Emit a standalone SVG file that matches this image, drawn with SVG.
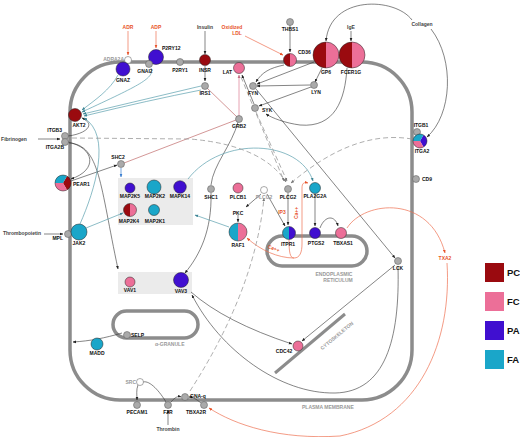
<svg xmlns="http://www.w3.org/2000/svg" width="520" height="437" viewBox="0 0 520 437">
<style>
.l{font-family:"Liberation Sans",Arial,sans-serif;font-weight:bold;font-size:5px;fill:#111;text-anchor:middle}
.s{text-anchor:start}.e{text-anchor:end}
.gl{fill:#999}.or{fill:#e8542a}.dk{fill:#444}
.lg{font-size:9.5px;text-anchor:start}
.g{fill:#aaa;stroke:#555;stroke-width:0.5}
.w{fill:#fff;stroke:#555;stroke-width:0.5}
.n{fill:none;stroke:#222;stroke-width:0.5}
.pc{fill:#9a0a0f}.fc{fill:#ec6f98}.pa{fill:#400fd0}.fa{fill:#1aa6c9}
.c{fill:none;stroke:#333;stroke-width:0.6}
.t{fill:none;stroke:#5a9fae;stroke-width:0.7}
.o{fill:none;stroke:#ee7050;stroke-width:0.7}
.r{fill:none;stroke:#c06a6a;stroke-width:0.7}
.p{fill:none;stroke:#e08aa0;stroke-width:0.8}
.b{fill:none;stroke:#3b7fd0;stroke-width:0.7}
.d{fill:none;stroke:#999;stroke-width:0.8;stroke-dasharray:5 3}
.mem{fill:none;stroke:#8c8c8c;stroke-width:3.5}
.box{fill:#ebebeb}
</style>
<defs>
<marker id="ad" viewBox="0 0 10 10" refX="9" refY="5" markerWidth="3.5" markerHeight="3.5" orient="auto" markerUnits="userSpaceOnUse"><path d="M0,1 L10,5 L0,9 z" fill="#222"/></marker>
<marker id="at" viewBox="0 0 10 10" refX="9" refY="5" markerWidth="3.5" markerHeight="3.5" orient="auto" markerUnits="userSpaceOnUse"><path d="M0,1 L10,5 L0,9 z" fill="#3d8595"/></marker>
<marker id="ao" viewBox="0 0 10 10" refX="9" refY="5" markerWidth="3.5" markerHeight="3.5" orient="auto" markerUnits="userSpaceOnUse"><path d="M0,1 L10,5 L0,9 z" fill="#e8542a"/></marker>
<marker id="ab" viewBox="0 0 10 10" refX="9" refY="5" markerWidth="3.5" markerHeight="3.5" orient="auto" markerUnits="userSpaceOnUse"><path d="M0,1 L10,5 L0,9 z" fill="#3b7fd0"/></marker>
<marker id="ap" viewBox="0 0 10 10" refX="9" refY="5" markerWidth="3.5" markerHeight="3.5" orient="auto" markerUnits="userSpaceOnUse"><path d="M0,1 L10,5 L0,9 z" fill="#c06a80"/></marker>
<marker id="ag" viewBox="0 0 10 10" refX="9" refY="5" markerWidth="3.5" markerHeight="3.5" orient="auto" markerUnits="userSpaceOnUse"><path d="M0,1 L10,5 L0,9 z" fill="#777"/></marker>
</defs>
<rect width="520" height="437" fill="#fff"/>

<g id="compartments">
<rect class="mem" x="70" y="62" width="342" height="338" rx="50"/>
<text class="l gl s" x="302" y="409">PLASMA MEMBRANE</text>
<rect class="mem" x="267" y="236" width="100" height="30" rx="15" stroke-width="3"/>
<text class="l gl" x="334" y="276">ENDOPLASMIC</text>
<text class="l gl" x="338" y="282">RETICULUM</text>
<rect class="mem" x="113" y="311" width="85" height="27" rx="13.5" stroke-width="3"/>
<text class="l gl s" x="155" y="346">α-GRANULE</text>
<line x1="275" y1="373" x2="345" y2="314" stroke="#8c8c8c" stroke-width="3"/>
<text class="l gl" x="0" y="0" transform="translate(338,337) rotate(-40)">CYTOSKELETON</text>
<rect class="box" x="118" y="178" width="75" height="47"/>
<rect class="box" x="118" y="272" width="74" height="22"/>
</g>

<g id="connectors">
<path class="o" d="M128,31 L128,55" marker-end="url(#ao)"/>
<path class="o" d="M156,31 L156,48" marker-end="url(#ao)"/>
<path class="o" d="M245,36 L283,55" marker-end="url(#ao)"/>
<path class="o" d="M347,228 C365,200 430,195 445,253" marker-end="url(#ao)"/>
<path class="o" d="M447,263 C452,340 420,420 340,436 C280,440 235,425 209,408" marker-end="url(#ao)"/>
<path class="o" d="M289,240 C289,252 290,258 294,258 C300,258 302,252 302,244 L302,188 C302,183 304,182 308,183" marker-end="url(#ao)"/>
<path class="o" d="M294,258 C278,258 260,250 247,238" marker-end="url(#ao)"/>

<path class="c" d="M205,31 L205,54" marker-end="url(#ad)"/>
<path class="c" d="M205,66 L205,81" marker-end="url(#ad)"/>
<path class="c" d="M290,25 L290,52" marker-end="url(#ad)"/>
<path class="c" d="M351,31 L351,41" marker-end="url(#ad)"/>
<path class="c" d="M412,20 C395,-3 330,-5 326,41" marker-end="url(#ad)"/>
<path class="c" d="M431,29 C455,60 452,115 427,137" marker-end="url(#ad)"/>
<path class="c" d="M284,65 C270,68 262,72 256,82" marker-end="url(#ad)"/>
<path class="c" d="M314,62 L257,84" marker-end="url(#ad)"/>
<path class="c" d="M310,85 L257,86" marker-end="url(#ad)"/>
<path class="c" d="M322,68 L315,82" marker-end="url(#ad)"/>
<path class="c" d="M311,87 L259,106" marker-end="url(#ad)"/>
<path class="c" d="M347,68 C345,100 335,128 300,125 C285,123 272,118 266,114" marker-end="url(#ad)"/>
<path class="c" d="M254,104 L242,75" marker-end="url(#ad)"/>
<path class="p" d="M239,116 L239,75" marker-end="url(#ap)"/>
<path class="r" d="M207,88 L237,117"/>
<path class="r" d="M124,163 L236,120"/>
<path class="c" d="M238,122 C232,145 213,165 211,185"/>
<path class="c" d="M211,193 C212,230 200,255 185,273" marker-end="url(#ad)"/>
<path class="c" d="M256,89 L395,258" marker-end="url(#ad)"/>
<path class="c" d="M395,265 L302,341" marker-end="url(#ad)"/>
<path class="c" d="M398,266 C400,340 385,392 335,393 C280,394 220,350 192,295" marker-end="url(#ad)"/>
<path class="c" d="M191,292 Q225,322 292,344" marker-end="url(#ad)"/>
<path class="c" d="M68,142 C95,148 98,170 71,179" marker-end="url(#ad)"/>
<path class="c" d="M68,136 C85,134 97,125 82,118" marker-end="url(#ad)"/>
<path class="c" d="M69,143 C100,145 100,185 118,269" marker-end="url(#ad)"/>
<path class="c" d="M71,181 L117,165" marker-end="url(#ad)"/>
<path class="b" d="M121,168 L121,177" marker-end="url(#ab)"/>
<path class="c" d="M38,139 L60,139" marker-end="url(#ad)"/>
<path class="c" d="M44,234 L63,234" marker-end="url(#ad)"/>
<path class="c" d="M288,193 L288,225" marker-end="url(#ad)"/>
<path class="c" d="M267,194 L285,226" marker-end="url(#ad)"/>
<path class="c" d="M261,194 L246,207" marker-end="url(#ad)"/>
<path class="c" d="M238,215 L238,222" marker-end="url(#ad)"/>
<path class="c" d="M315,194 L315,226" marker-end="url(#ad)"/>
<path class="c" d="M320,228 C325,215 335,215 338,226" marker-end="url(#ad)"/>
<path class="c" d="M122,333 C105,338 90,341 73,342" marker-end="url(#ad)"/>
<path class="c" d="M138,385 C136,390 137,395 137,400" marker-end="url(#ad)"/>
<path class="c" d="M166,402 C160,392 150,380 143,382"/>
<path class="c" d="M171,402 C175,397 178,396 181,397" marker-end="url(#ad)"/>
<path class="c" d="M201,403 C196,399 193,397 189,397" marker-end="url(#ad)"/>
<path class="c" d="M168,425 L168,410" marker-end="url(#ad)"/>

<path class="t" d="M118,75 C110,90 95,100 82,110" marker-end="url(#at)"/>
<path class="t" d="M151,68 C155,78 140,85 82,112" marker-end="url(#at)"/>
<path class="t" d="M201,86 L83,114" marker-end="url(#at)"/>
<path class="t" d="M201,90 Q150,100 84,116" marker-end="url(#at)"/>
<path class="t" d="M80,224 C95,190 112,135 84,118" marker-end="url(#at)"/>
<path class="t" d="M86,228 L123,213" marker-end="url(#at)"/>
<path class="t" d="M229,227 L195,215" marker-end="url(#at)"/>
<path class="t" d="M188,179 C222,135 300,140 313,181" marker-end="url(#at)"/>

<path class="d" d="M72,138 L190,139 Q262,145 286,182" marker-end="url(#ag)"/>
<path class="d" d="M412,139 C370,132 330,150 291,183" marker-end="url(#ag)"/>
<path class="d" d="M241,77 L284,181" marker-end="url(#ag)"/>
<path class="d" d="M256,112 L287,181" marker-end="url(#ag)"/>
<path class="d" d="M190,391 Q255,290 264,198" marker-end="url(#ag)"/>
</g>

<g id="ADR"><text class="l or" x="128" y="29">ADR</text></g>
<g id="ADP"><text class="l or" x="156" y="29">ADP</text></g>
<g id="Insulin"><text class="l dk" x="205" y="29">Insulin</text></g>
<g id="OxidizedLDL"><text class="l or" x="232" y="29">Oxidized</text><text class="l or" x="237" y="35">LDL</text></g>
<g id="IgE"><text class="l dk" x="351" y="29">IgE</text></g>
<g id="Collagen"><text class="l dk" x="422" y="26">Collagen</text></g>
<g id="Fibrinogen"><text class="l dk" x="14" y="141">Fibrinogen</text></g>
<g id="Thrombopoietin"><text class="l dk" x="22" y="235">Thrombopoietin</text></g>
<g id="Thrombin"><text class="l dk" x="168" y="431">Thrombin</text></g>

<g id="ADRA2A"><circle class="w" cx="128" cy="60" r="3.5"/><text class="l gl e" x="124" y="61">ADRA2A</text></g>
<g id="GNAZ"><circle class="pa" cx="123" cy="69" r="7"/><circle class="n" cx="123" cy="69" r="7"/><text class="l" x="123" y="82">GNAZ</text></g>
<g id="P2RY12"><circle class="pa" cx="156" cy="57" r="7.5"/><circle class="n" cx="156" cy="57" r="7.5"/><text class="l s" x="162" y="50">P2RY12</text></g>
<g id="GNAI2"><circle class="g" cx="149" cy="64" r="3.5"/><text class="l" x="145" y="73">GNAI2</text></g>
<g id="P2RY1"><circle class="g" cx="180" cy="62" r="3.5"/><text class="l" x="180" y="72">P2RY1</text></g>
<g id="INSR"><circle class="pc" cx="205" cy="60" r="5.5"/><circle class="n" cx="205" cy="60" r="5.5"/><text class="l" x="205" y="72">INSR</text></g>
<g id="IRS1"><circle class="g" cx="205" cy="86" r="3.5"/><text class="l" x="205" y="95">IRS1</text></g>
<g id="LAT"><circle class="fc" cx="239" cy="68" r="5.5"/><circle class="n" cx="239" cy="68" r="5.5"/><text class="l e" x="232" y="74">LAT</text></g>
<g id="THBS1"><circle class="g" cx="290" cy="22" r="3.5"/><text class="l" x="290" y="31">THBS1</text></g>
<g id="CD36"><path class="pc" d="M290,53.5 A6.5,6.5 0 0 0 290,66.5 Z"/><path class="fc" d="M290,53.5 A6.5,6.5 0 0 1 290,66.5 Z"/><circle class="n" cx="290" cy="60" r="6.5"/><text class="l s" x="298" y="54">CD36</text></g>
<g id="GP6"><path class="pc" d="M326,42 A13,13 0 0 0 326,68 Z"/><path class="fc" d="M326,42 A13,13 0 0 1 326,68 Z"/><circle class="n" cx="326" cy="55" r="13"/><text class="l" x="326" y="74">GP6</text></g>
<g id="FCER1G"><path class="pc" d="M352,42 A13,13 0 0 0 352,68 Z"/><path class="fc" d="M352,42 A13,13 0 0 1 352,68 Z"/><circle class="n" cx="352" cy="55" r="13"/><text class="l" x="351" y="74">FCER1G</text></g>
<g id="FYN"><circle class="g" cx="253" cy="86" r="3.5"/><text class="l" x="253" y="95">FYN</text></g>
<g id="LYN"><circle class="g" cx="314" cy="85" r="3.5"/><text class="l" x="316" y="94">LYN</text></g>
<g id="SYK"><circle class="g" cx="255" cy="108" r="3.5"/><text class="l s" x="262" y="112">SYK</text></g>
<g id="GRB2"><circle class="g" cx="239" cy="119" r="3.5"/><text class="l" x="239" y="128">GRB2</text></g>
<g id="ITGB1"><circle class="g" cx="417" cy="132" r="3.5"/><text class="l" x="421" y="127">ITGB1</text></g>
<g id="ITGA2"><path class="pa" d="M420,141 L423.5,134.94 A7,7 0 0 1 423.5,147.06 Z"/><path class="fc" d="M420,141 L423.5,147.06 A7,7 0 0 1 413,141 Z"/><path class="fa" d="M420,141 L413,141 A7,7 0 0 1 423.5,134.94 Z"/><circle class="n" cx="420" cy="141" r="7"/><text class="l" x="422" y="153">ITGA2</text></g>
<g id="CD9"><circle class="g" cx="416" cy="179" r="3.5"/><text class="l s" x="422" y="181">CD9</text></g>
<g id="AKT2"><circle class="pc" cx="75" cy="115" r="6.5"/><circle class="n" cx="75" cy="115" r="6.5"/><text class="l" x="79" y="127">AKT2</text></g>
<g id="ITGB3"><circle class="g" cx="65" cy="136" r="3.5"/><text class="l e" x="62" y="132">ITGB3</text></g>
<g id="ITGA2B"><circle class="g" cx="65" cy="142" r="3.5"/><text class="l e" x="64" y="149">ITGA2B</text></g>
<g id="SHC2"><circle class="g" cx="121" cy="164" r="3.5"/><text class="l" x="118" y="159">SHC2</text></g>
<g id="PEAR1"><path class="pc" d="M63,183 L67,176.07 A8,8 0 0 1 67,189.93 Z"/><path class="fc" d="M63,183 L67,189.93 A8,8 0 0 1 55,183 Z"/><path class="fa" d="M63,183 L55,183 A8,8 0 0 1 67,176.07 Z"/><circle class="n" cx="63" cy="183" r="8"/><text class="l s" x="73" y="186">PEAR1</text></g>
<g id="MPL"><circle class="g" cx="68" cy="234" r="3.5"/><text class="l e" x="63" y="240">MPL</text></g>
<g id="JAK2"><circle class="fa" cx="79" cy="232" r="8"/><circle class="n" cx="79" cy="232" r="8"/><text class="l" x="79" y="245">JAK2</text></g>
<g id="MAP2K5"><circle class="pa" cx="130" cy="188" r="5"/><circle class="n" cx="130" cy="188" r="5"/><text class="l" x="130" y="198">MAP2K5</text></g>
<g id="MAP2K2"><circle class="fa" cx="154" cy="187" r="7"/><circle class="n" cx="154" cy="187" r="7"/><text class="l" x="155" y="198">MAP2K2</text></g>
<g id="MAPK14"><circle class="pa" cx="180" cy="187" r="6.3"/><circle class="n" cx="180" cy="187" r="6.3"/><text class="l" x="180" y="198">MAPK14</text></g>
<g id="MAP2K4"><path class="pc" d="M130,203.5 A6.5,6.5 0 0 0 130,216.5 Z"/><path class="fc" d="M130,203.5 A6.5,6.5 0 0 1 130,216.5 Z"/><circle class="n" cx="130" cy="210" r="6.5"/><text class="l" x="129" y="223">MAP2K4</text></g>
<g id="MAP2K1"><circle class="fa" cx="154" cy="210" r="5.5"/><circle class="n" cx="154" cy="210" r="5.5"/><text class="l" x="155" y="223">MAP2K1</text></g>
<g id="VAV1"><circle class="fc" cx="130" cy="282" r="5"/><circle class="n" cx="130" cy="282" r="5"/><text class="l" x="130" y="292">VAV1</text></g>
<g id="VAV3"><circle class="pa" cx="181" cy="280" r="7.5"/><circle class="n" cx="181" cy="280" r="7.5"/><text class="l" x="181" y="293">VAV3</text></g>
<g id="SHC1"><circle class="g" cx="211" cy="189" r="3.5"/><text class="l" x="211" y="199">SHC1</text></g>
<g id="PLCB1"><circle class="fc" cx="238" cy="188" r="5"/><circle class="n" cx="238" cy="188" r="5"/><text class="l" x="238" y="199">PLCB1</text></g>
<g id="PLCG2-white"><circle class="w" cx="264" cy="190" r="3.5"/><text class="l gl" x="264" y="199">PLCG2</text></g>
<g id="PLCG2"><circle class="g" cx="288" cy="189" r="3.5"/><text class="l" x="288" y="199">PLCG2</text></g>
<g id="PLA2G2A"><circle class="fa" cx="315" cy="188" r="5.5"/><circle class="n" cx="315" cy="188" r="5.5"/><text class="l" x="315" y="198">PLA2G2A</text></g>
<g id="PKC"><text class="l" x="238" y="215">PKC</text></g>
<g id="RAF1"><path class="fa" d="M238,223 A9,9 0 0 0 238,241 Z"/><path class="fc" d="M238,223 A9,9 0 0 1 238,241 Z"/><circle class="n" cx="238" cy="232" r="9"/><text class="l" x="238" y="247">RAF1</text></g>
<g id="ITPR1"><path class="fa" d="M289,226.5 A6.5,6.5 0 0 0 289,239.5 Z"/><path class="pa" d="M289,226.5 A6.5,6.5 0 0 1 289,239.5 Z"/><circle class="n" cx="289" cy="233" r="6.5"/><text class="l" x="288" y="246">ITPR1</text></g>
<g id="PTGS2"><circle class="pa" cx="315" cy="233" r="5.5"/><circle class="n" cx="315" cy="233" r="5.5"/><text class="l" x="316" y="245">PTGS2</text></g>
<g id="TBXAS1"><circle class="fc" cx="341" cy="233" r="5.5"/><circle class="n" cx="341" cy="233" r="5.5"/><text class="l" x="343" y="245">TBXAS1</text></g>
<g id="IP3"><text class="l or" x="282" y="214">IP3</text></g>
<g id="Ca1"><text class="l or" x="0" y="0" transform="translate(298,213) rotate(-90)">Ca++</text></g>
<g id="Ca2"><text class="l or" x="0" y="0" transform="translate(273,250) rotate(22)">Ca++</text></g>
<g id="TXA2"><text class="l or" x="445" y="260">TXA2</text></g>
<g id="LCK"><circle class="g" cx="398" cy="261" r="3.5"/><text class="l" x="398" y="270">LCK</text></g>
<g id="CDC42"><circle class="fc" cx="298" cy="346" r="5"/><circle class="n" cx="298" cy="346" r="5"/><text class="l" x="284" y="353">CDC42</text></g>
<g id="SELP"><circle class="g" cx="127" cy="335" r="3.5"/><text class="l s" x="131" y="337">SELP</text></g>
<g id="MADD"><circle class="fa" cx="97" cy="344" r="6"/><circle class="n" cx="97" cy="344" r="6"/><text class="l" x="97" y="355">MADD</text></g>
<g id="SRC"><circle class="w" cx="140" cy="382" r="3.5"/><text class="l gl e" x="136" y="384">SRC</text></g>
<g id="PECAM1"><circle class="g" cx="137" cy="405" r="3.5"/><text class="l" x="137" y="414">PECAM1</text></g>
<g id="F2R"><circle class="g" cx="168" cy="405" r="3.5"/><text class="l" x="168" y="414">F2R</text></g>
<g id="GNA-q"><circle class="g" cx="185" cy="397" r="3.5"/><text class="l s" x="190" y="398">GNA-q</text></g>
<g id="TBXA2R"><circle class="g" cx="204" cy="405" r="3.5"/><text class="l" x="196" y="414">TBXA2R</text></g>

<g id="legend">
<rect class="pc" x="485" y="263" width="19" height="19"/><text class="l lg" x="507" y="276">PC</text>
<rect class="fc" x="485" y="292" width="19" height="19"/><text class="l lg" x="507" y="305">FC</text>
<rect class="pa" x="485" y="321" width="19" height="19"/><text class="l lg" x="507" y="334">PA</text>
<rect class="fa" x="485" y="350" width="19" height="19"/><text class="l lg" x="507" y="363">FA</text>
</g>
</svg>
